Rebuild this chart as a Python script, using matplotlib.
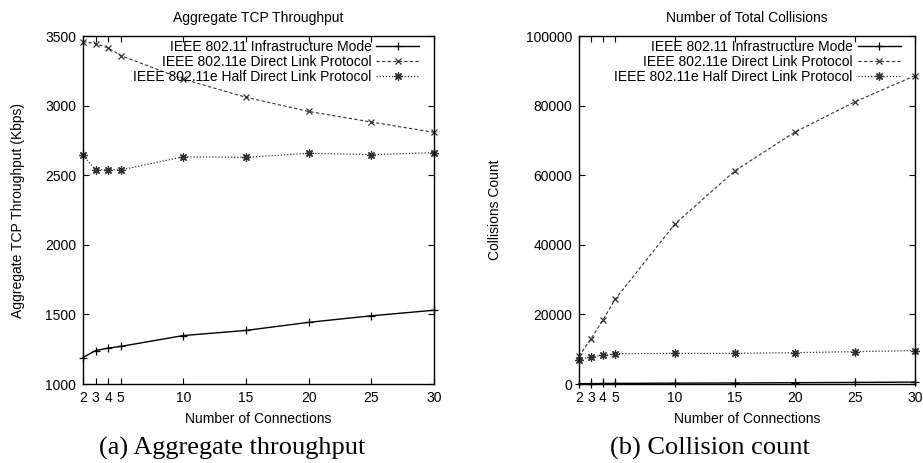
import numpy as np
import matplotlib
matplotlib.use('Agg')
import matplotlib.pyplot as plt

# So ket noi
connections = [2, 3, 4, 5, 10, 15, 20, 25, 30]
xtick_labels = ['2', '3', '4', '5', '10', '15', '20', '25', '30']

labels = ['IEEE 802.11 Infrastructure Mode',
          'IEEE 802.11e Direct Link Protocol',
          'IEEE 802.11e Half Direct Link Protocol']

# (a) throughput (Kbps)
thr_infra = [1190, 1240, 1258, 1270, 1348, 1385, 1443, 1490, 1530]
thr_dlp = [3460, 3445, 3415, 3360, 3190, 3060, 2958, 2882, 2808]
thr_half = [2645, 2538, 2540, 2538, 2632, 2628, 2658, 2648, 2662]

# (b) collisions
col_infra = [100, 120, 150, 180, 250, 300, 380, 450, 550]
col_dlp = [8000, 13000, 18400, 24300, 46000, 61300, 72400, 81100, 88600]
col_half = [7000, 7800, 8200, 8700, 8800, 8800, 9000, 9300, 9600]

plt.rcParams['font.family'] = ['Liberation Sans', 'DejaVu Sans']

fig = plt.figure(figsize=(9.23, 4.63), dpi=100)
ax1 = fig.add_axes([0.0899, 0.1706, 0.3803, 0.7516])
ax2 = fig.add_axes([0.6273, 0.1706, 0.3640, 0.7516])

styles = [dict(color='black', linestyle='-', linewidth=1.0, marker='+', markersize=6, markeredgewidth=0.9),
          dict(color='#333333', linestyle=(0, (3, 2)), linewidth=0.8, marker='x', markersize=5, markeredgewidth=0.9),
          dict(color='#333333', linestyle=(0, (1, 1.5)), linewidth=0.9, marker=(8, 2, 0), markersize=6, markeredgewidth=0.9)]

fs = 10


def VeDoThi(ax, data, title, ylabel, ylim, yticks, ylabel_x):
    for y, lab, st in zip(data, labels, styles):
        ax.plot(connections, y, label=lab, clip_on=False, **st)
    ax.set_xlim(2, 30)
    ax.set_ylim(*ylim)
    ax.set_xticks(connections)
    ax.set_xticklabels(xtick_labels)
    ax.set_yticks(yticks)
    ax.tick_params(direction='in', top=True, right=True, length=4, width=0.8, labelsize=fs, pad=5)
    ax.set_title(title, fontsize=fs, pad=10)
    ax.set_xlabel('Number of Connections', fontsize=fs, labelpad=5)
    ax.set_ylabel(ylabel, fontsize=fs)
    ax.yaxis.set_label_coords(ylabel_x, 0.5)
    for s in ax.spines.values():
        s.set_linewidth(1.0)
    ax.legend(loc='upper right', frameon=False, markerfirst=False, fontsize=fs,
              handlelength=3.1, labelspacing=0.05, borderaxespad=0.0, handletextpad=0.35,
              borderpad=0.3, bbox_to_anchor=(0.97, 1.0))


VeDoThi(ax1, [thr_infra, thr_dlp, thr_half], 'Aggregate TCP Throughput',
        'Aggregate TCP Throughput (Kbps)', (1000, 3500), [1000, 1500, 2000, 2500, 3000, 3500], -0.165)
VeDoThi(ax2, [col_infra, col_dlp, col_half], 'Number of Total Collisions',
        'Collisions Count', (0, 100000), [0, 20000, 40000, 60000, 80000, 100000], -0.228)

fig.text(232 / 923, 1 - 448 / 463, '(a) Aggregate throughput', ha='center', va='center',
         fontsize=19, family='Liberation Serif')
fig.text(710 / 923, 1 - 448 / 463, '(b) Collision count', ha='center', va='center',
         fontsize=19, family='Liberation Serif')

fig.savefig('out.png', dpi=100)
